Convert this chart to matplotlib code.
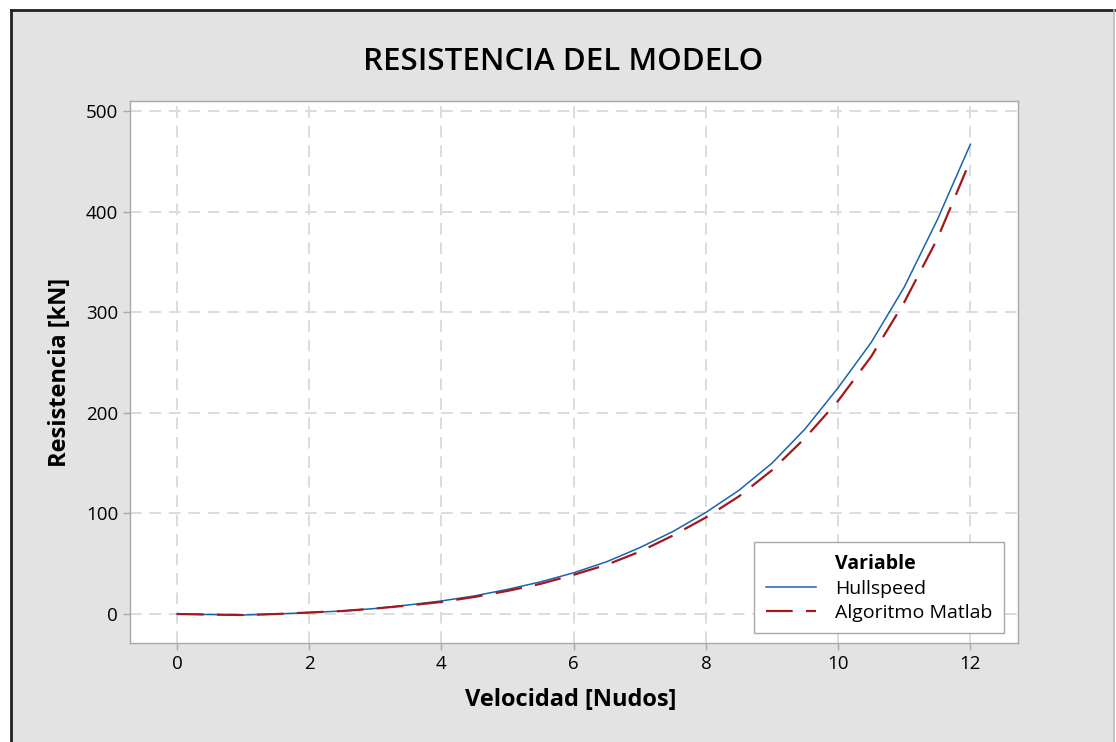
import numpy as np
import matplotlib.pyplot as plt
from matplotlib.patches import Rectangle
from matplotlib.lines import Line2D

plt.rcParams['font.family'] = ['Open Sans', 'DejaVu Sans']

# velocidad en nudos y resistencia en kN
velocidad = [0, 0.5, 1, 1.5, 2, 2.5, 3, 3.5, 4, 4.5, 5, 5.5, 6,
             6.5, 7, 7.5, 8, 8.5, 9, 9.5, 10, 10.5, 11, 11.5, 12]
hullspeed = [0, -0.5, -1, 0, 1.5, 3, 5.5, 9, 13, 18, 24.5, 32, 41,
             52, 66, 82, 101, 123, 150, 184, 225, 270, 325, 392, 467]
matlab = [0, -0.5, -1, 0, 1.5, 3, 5.5, 8.5, 12, 17, 23, 30, 39,
          49, 62, 78, 96, 117, 143, 175, 212, 256, 310, 373, 451]

xticks = [0, 2, 4, 6, 8, 10, 12]
yticks = [0, 100, 200, 300, 400, 500]

fig = plt.figure(figsize=(11.16, 7.42), dpi=100)
fig.patch.set_facecolor('white')

# panel gris con borde
W, H = 1116, 742
fig.patches.append(Rectangle((11 / W, -0.05), (1114 - 11) / W, (H - 10) / H + 0.05,
                             transform=fig.transFigure, facecolor='#e3e3e3',
                             edgecolor='none', zorder=-10))
fig.lines.append(Line2D([11 / W, 11 / W], [-0.05, 1 - 10 / H], transform=fig.transFigure,
                        color='#222222', lw=2, zorder=-5))
fig.lines.append(Line2D([11 / W, 1114 / W], [1 - 10 / H, 1 - 10 / H], transform=fig.transFigure,
                        color='#222222', lw=2, zorder=-5))
fig.lines.append(Line2D([1114 / W, 1114 / W], [-0.05, 1 - 10 / H], transform=fig.transFigure,
                        color='#bbbbbb', lw=1.2, zorder=-5))

ax = fig.add_axes([130 / W, 1 - 643 / H, (1018 - 130) / W, (643 - 101) / H])
ax.set_facecolor('white')

ax.plot(velocidad, hullspeed, color='#1a62b4', lw=1.1, label='Hullspeed', zorder=3)
ax.plot(velocidad, matlab, color='#a3181c', lw=1.6, dashes=(12, 6),
        label='Algoritmo Matlab', zorder=3)

ax.set_xlim(-0.71, 12.72)
ax.set_ylim(-28.8, 510)
ax.set_xticks(xticks)
ax.set_yticks(yticks)
ax.grid(True, color='#dcdcdc', lw=1.4, dashes=(6, 4))
ax.set_axisbelow(True)
for s in ax.spines.values():
    s.set_color('#a8a8a8')
    s.set_linewidth(1)
ax.tick_params(colors='#a8a8a8', labelcolor='black', labelsize=13.5, length=5, width=1)

fig.text(563 / W, 1 - 62 / H, 'RESISTENCIA DEL MODELO', ha='center', va='center',
         fontsize=22.5, fontweight='semibold')
fig.text(571 / W, 1 - 700 / H, 'Velocidad [Nudos]', ha='center', va='center',
         fontsize=17, fontweight='bold')
fig.text(60 / W, 1 - 372 / H, 'Resistencia [kN]', ha='center', va='center',
         rotation=90, fontsize=17, fontweight='bold')

# leyenda con el titulo alineado a la columna de texto
handles, labels = ax.get_legend_handles_labels()
blank = Line2D([], [], color='none')
leg = ax.legend([blank] + handles, ['Variable'] + labels, loc='lower right',
                bbox_to_anchor=(0.984, 0.018), borderaxespad=0, fontsize=14,
                fancybox=False, framealpha=1, edgecolor='#a8a8a8',
                handlelength=2.6, handletextpad=0.95, borderpad=0.6, labelspacing=0.3)
leg.get_texts()[0].set_fontweight('bold')
leg.get_frame().set_linewidth(1)

fig.savefig('out.png', dpi=100)
